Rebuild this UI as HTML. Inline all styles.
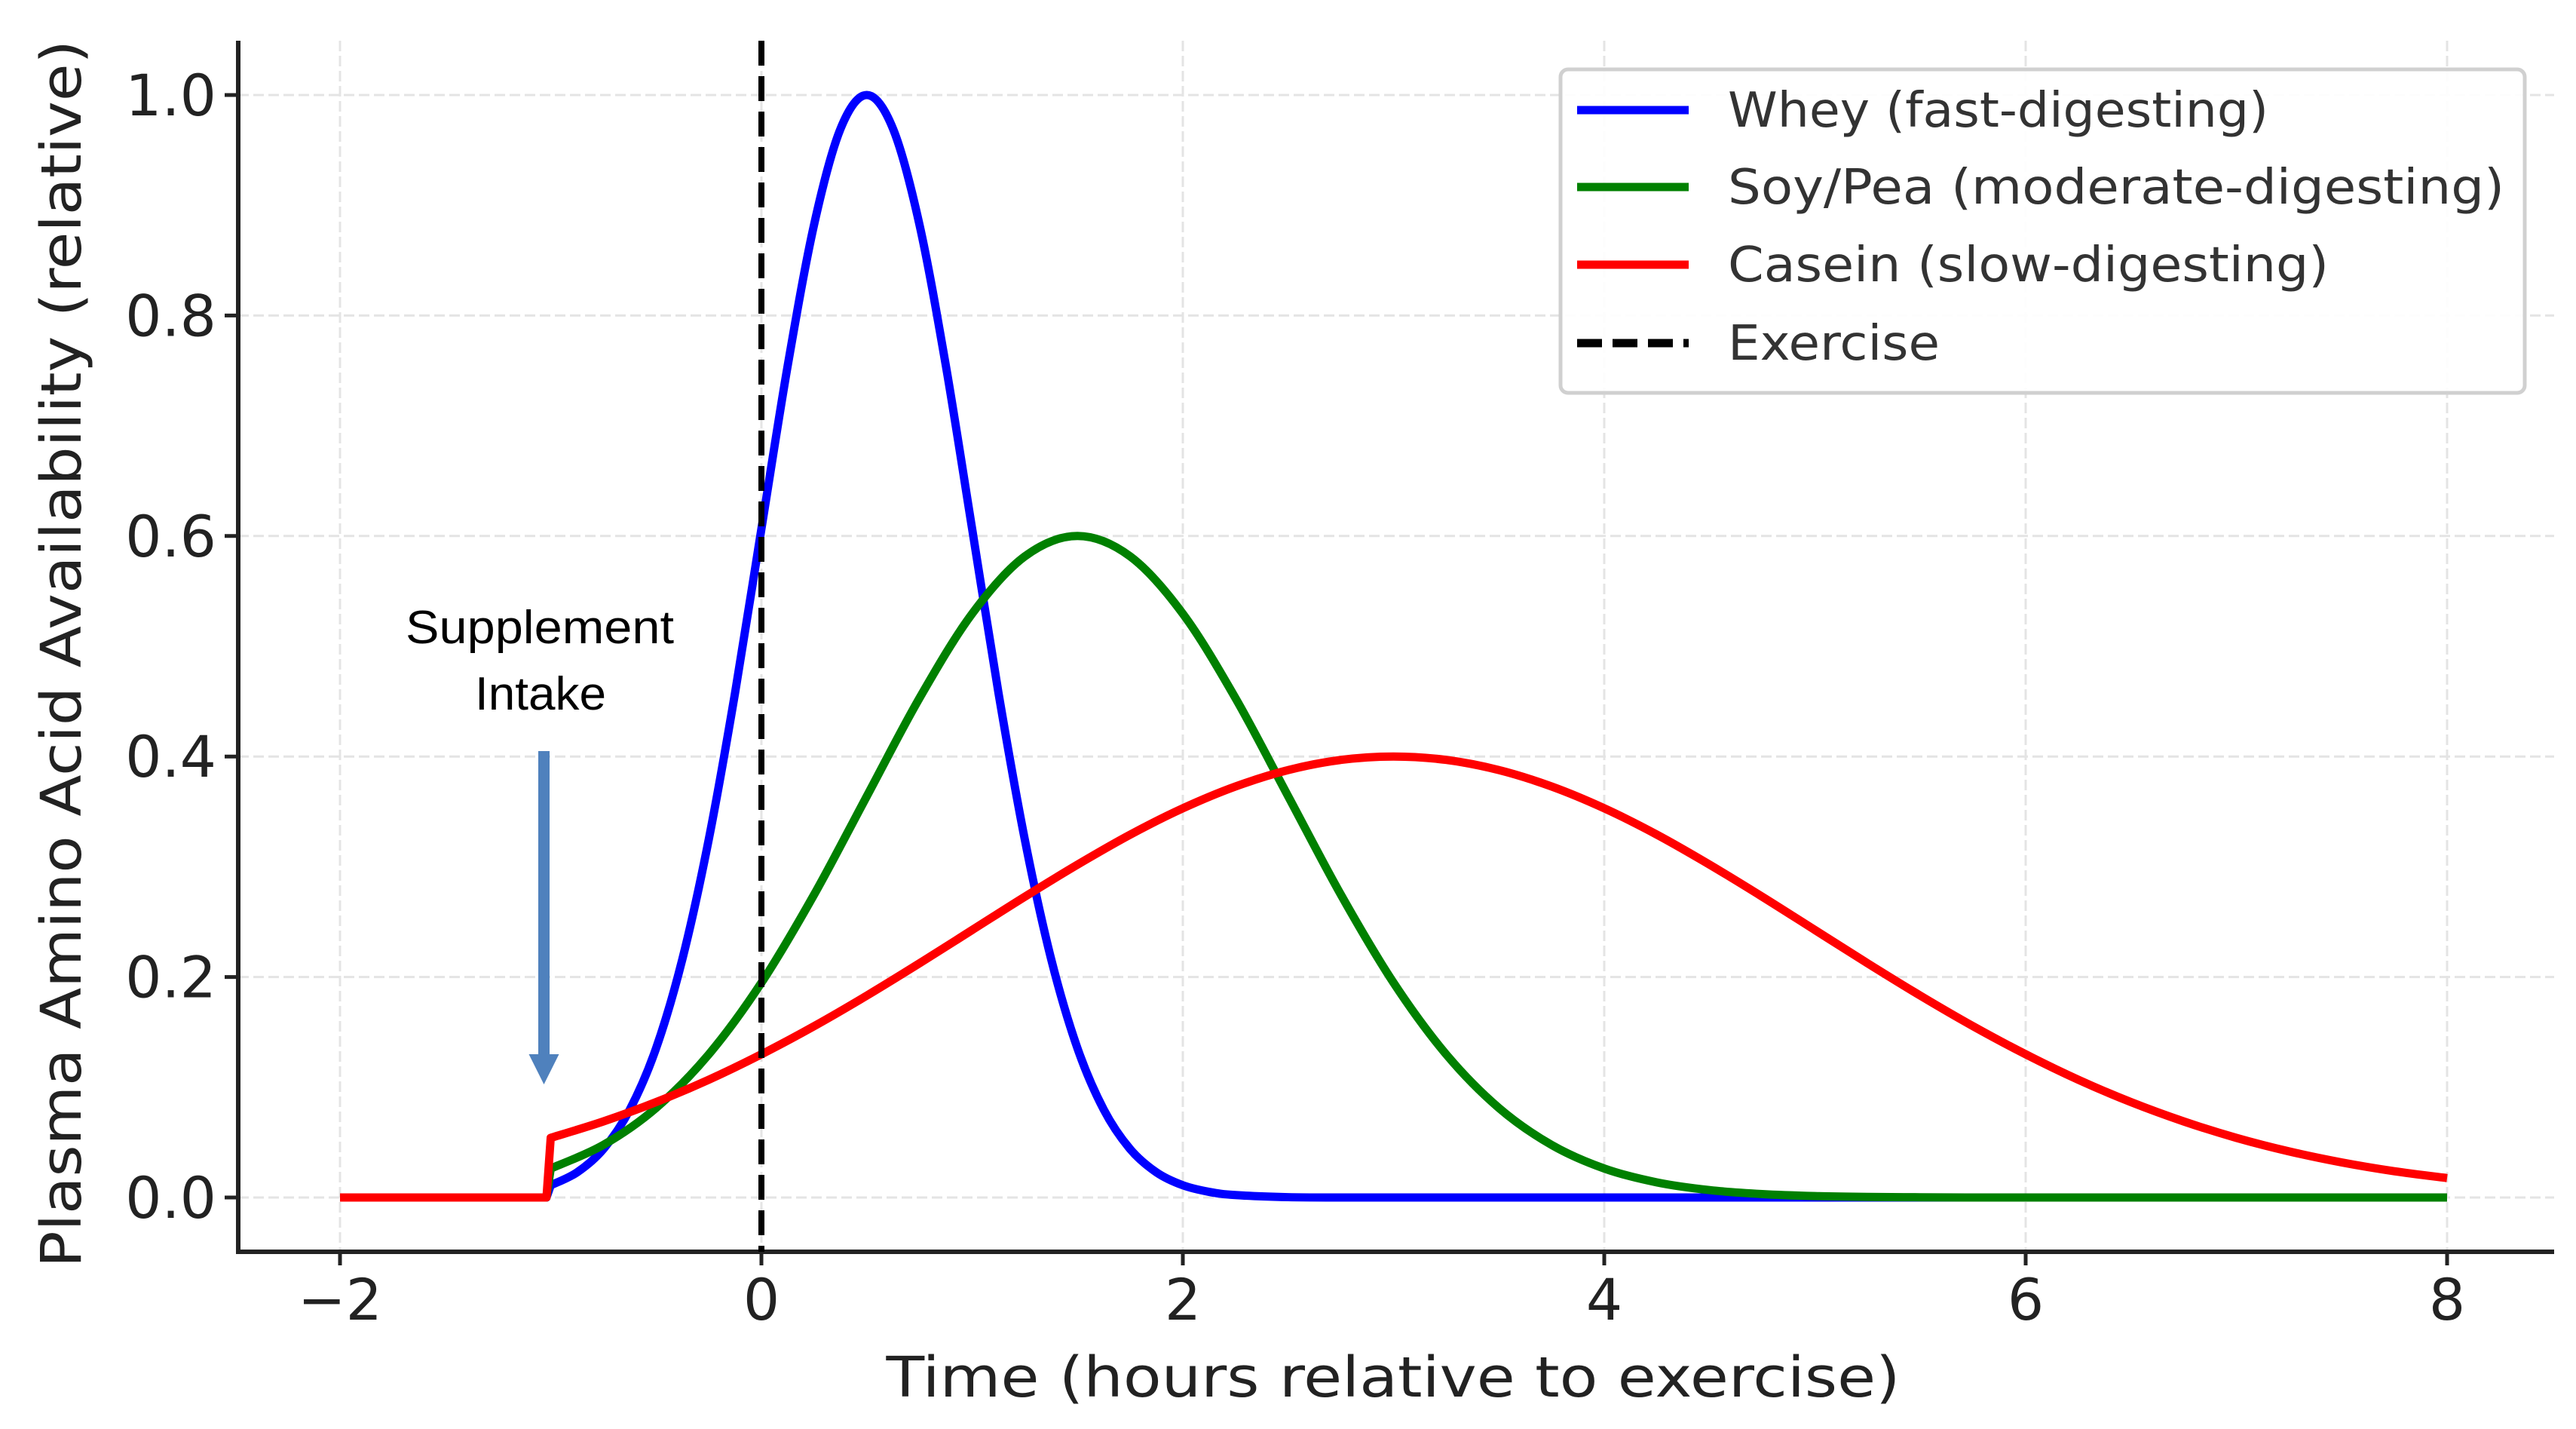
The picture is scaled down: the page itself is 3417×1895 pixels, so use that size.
<!DOCTYPE html>
<html><head><meta charset="utf-8"><style>
html,body{margin:0;padding:0;background:#fff;}
svg{display:block;font-family:"DejaVu Sans","Liberation Sans",sans-serif;}
</style></head><body>
<svg id="chart" width="3417" height="1895" viewBox="0 0 3417 1895" xmlns="http://www.w3.org/2000/svg">
<rect width="3417" height="1895" fill="#fff"/>
<g id="grid"></g>
<g id="axes"></g>
<g id="series"></g>
<g id="annot"></g>
<g id="legend"></g>
</svg>
<script>
const xTicks = [-2, 0, 2, 4, 6, 8];
const yTicks = [0.0, 0.2, 0.4, 0.6, 0.8, 1.0];
const xTickLabels = ["\u22122", "0", "2", "4", "6", "8"];
const yTickLabels = ["0.0", "0.2", "0.4", "0.6", "0.8", "1.0"];
const hours = [-1,-0.75,-0.5,-0.25,0,0.25,0.5,0.75,1,1.25,1.5,1.75,2,2.25,2.5,2.75,3,3.25,3.5,3.75,4,4.25,4.5,4.75,5,5.25,5.5,5.75,6,6.25,6.5,6.75,7,7.25,7.5,7.75,8];
const wheyHours = [-1,-0.875,-0.75,-0.625,-0.5,-0.375,-0.25,-0.125,0,0.125,0.25,0.375,0.5,0.625,0.75,0.875,1,1.125,1.25,1.375,1.5,1.625,1.75,1.875,2,2.125,2.25,2.5,2.75,3,4,5,6,7,8];
const wheyValues = [0.0111,0.0228,0.0439,0.0796,0.1353,0.2163,0.3247,0.4578,0.6065,0.7548,0.8825,0.9692,1.0,0.9692,0.8825,0.7548,0.6065,0.4578,0.3247,0.2163,0.1353,0.0796,0.0439,0.0228,0.0111,0.0051,0.0022,0.0003,0,0,0,0,0,0,0];
const soyValues = [0.0263,0.0477,0.0812,0.1298,0.1948,0.2747,0.3639,0.4529,0.5295,0.5815,0.6,0.5815,0.5295,0.4529,0.3639,0.2747,0.1948,0.1298,0.0812,0.0477,0.0263,0.0137,0.0067,0.0031,0.0013,0.0005,0.0002,0,0,0,0,0,0,0,0,0,0];
const caseinValues = [0.0541,0.0690,0.0865,0.1068,0.1299,0.1554,0.1831,0.2124,0.2426,0.2728,0.3019,0.3291,0.3530,0.3728,0.3877,0.3969,0.4,0.3969,0.3877,0.3728,0.3530,0.3291,0.3019,0.2728,0.2426,0.2124,0.1831,0.1554,0.1299,0.1068,0.0865,0.0690,0.0541,0.0418,0.0318,0.0238,0.0176];
const preIntakeHours = [-2, -1.02];
const preIntakeValues = [0, 0];
const exerciseTime = [0];
const intakeTime = [-1];

const NS = "http://www.w3.org/2000/svg";
const X0 = 451, XS = 279.5;
const Y0 = 1588, YS = 1462;
const sx = v => X0 + (v + 2) * XS;
const sy = v => Y0 - v * YS;
const PL = 316, PR = 3388, PT = 54, PB = 1660;

function mk(tag, attrs, parent, txt) {
  const e = document.createElementNS(NS, tag);
  for (const k in attrs) e.setAttribute(k, attrs[k]);
  if (txt !== undefined) e.textContent = txt;
  parent.appendChild(e);
  return e;
}
const grid = document.getElementById('grid');
const axes = document.getElementById('axes');
const series = document.getElementById('series');
const annot = document.getElementById('annot');
const legend = document.getElementById('legend');

xTicks.forEach((t, i) => {
  const g = mk('line', {x1: sx(t), x2: sx(t), y1: PT, y2: PB, stroke: '#e4e4e4', 'stroke-width': 3, 'stroke-dasharray': '14 6'}, grid);
  
  
  const tk = mk('line', {x1: sx(t), x2: sx(t), y1: PB, y2: PB + 18, stroke: '#222', 'stroke-width': 5}, axes);
  
  
  const lb = mk('text', {x: sx(t), y: 1750, 'font-size': 76, 'text-anchor': 'middle', fill: '#222'}, axes, xTickLabels[i]);
  
  
});
yTicks.forEach((t, i) => {
  const g = mk('line', {x1: PL, x2: PR, y1: sy(t), y2: sy(t), stroke: '#e4e4e4', 'stroke-width': 3, 'stroke-dasharray': '14 6'}, grid);
  
  
  const tk = mk('line', {x1: PL - 18, x2: PL, y1: sy(t), y2: sy(t), stroke: '#222', 'stroke-width': 5}, axes);
  
  
  const lb = mk('text', {x: 287, y: sy(t) + 27, 'font-size': 76, 'text-anchor': 'end', fill: '#222'}, axes, yTickLabels[i]);
  
  
});
const ls = mk('line', {x1: PL, x2: PL, y1: PT, y2: PB + 3, stroke: '#222', 'stroke-width': 6}, axes);


const bs = mk('line', {x1: PL - 3, x2: PR, y1: PB, y2: PB, stroke: '#222', 'stroke-width': 6}, axes);


const xt = mk('text', {x: 1848, y: 1852, 'font-size': 74, 'text-anchor': 'middle', fill: '#222', textLength: 1345, lengthAdjust: 'spacingAndGlyphs'}, axes, 'Time (hours relative to exercise)');


const yt = mk('text', {x: 0, y: 0, 'font-size': 74, 'text-anchor': 'middle', fill: '#222', textLength: 1628, lengthAdjust: 'spacingAndGlyphs', transform: 'translate(107,867) rotate(-90)'}, axes, 'Plasma Amino Acid Availability (relative)');



function smoothPath(xs, ys) {
  const P = xs.map((x, i) => [sx(x), sy(ys[i])]);
  let d = 'M' + sx(preIntakeHours[0]) + ',' + sy(preIntakeValues[0]) + ' L' + sx(preIntakeHours[1]) + ',' + sy(preIntakeValues[1]) + ' L' + P[0][0] + ',' + P[0][1];
  for (let i = 0; i < P.length - 1; i++) {
    const p0 = P[Math.max(0, i - 1)], p1 = P[i], p2 = P[i + 1], p3 = P[Math.min(P.length - 1, i + 2)];
    const c1 = [p1[0] + (p2[0] - p0[0]) / 6, p1[1] + (p2[1] - p0[1]) / 6];
    const c2 = [p2[0] - (p3[0] - p1[0]) / 6, p2[1] - (p3[1] - p1[1]) / 6];
    d += ' C' + c1[0] + ',' + c1[1] + ' ' + c2[0] + ',' + c2[1] + ' ' + p2[0] + ',' + p2[1];
  }
  return d;
}
const sw = mk('path', {d: smoothPath(wheyHours, wheyValues), fill: 'none', stroke: '#0000ff', 'stroke-width': 11, 'stroke-linejoin': 'round'}, series);


const ss = mk('path', {d: smoothPath(hours, soyValues), fill: 'none', stroke: '#008000', 'stroke-width': 11, 'stroke-linejoin': 'round'}, series);


const sc = mk('path', {d: smoothPath(hours, caseinValues), fill: 'none', stroke: '#ff0000', 'stroke-width': 11, 'stroke-linejoin': 'round'}, series);


const ex = mk('line', {x1: sx(exerciseTime[0]), x2: sx(exerciseTime[0]), y1: PT, y2: PB, stroke: '#000', 'stroke-width': 8, 'stroke-dasharray': '33 14'}, series);



const ax = sx(intakeTime[0]) - 9;
const arr = mk('g', {}, annot);


mk('rect', {x: ax - 7.5, y: 996, width: 15, height: 404, fill: '#4f81bd'}, arr);
mk('polygon', {points: (ax - 20) + ',1398 ' + (ax + 20) + ',1398 ' + ax + ',1438', fill: '#4f81bd'}, arr);
const t1 = mk('text', {x: 716, y: 853, 'font-size': 62, 'text-anchor': 'middle', fill: '#000', textLength: 356, lengthAdjust: 'spacingAndGlyphs', 'font-family': '"Liberation Sans", sans-serif'}, annot, 'Supplement');


const t2 = mk('text', {x: 717, y: 941, 'font-size': 62, 'text-anchor': 'middle', fill: '#000', textLength: 174, lengthAdjust: 'spacingAndGlyphs', 'font-family': '"Liberation Sans", sans-serif'}, annot, 'Intake');



const lb = mk('rect', {x: 2070, y: 92, width: 1279, height: 429, rx: 10, fill: '#fff', 'fill-opacity': 0.9, stroke: '#d0d0d0', 'stroke-width': 5}, legend);


const legNames = ['Whey (fast-digesting)', 'Soy/Pea (moderate-digesting)', 'Casein (slow-digesting)', 'Exercise'];
const legColors = ['#0000ff', '#008000', '#ff0000', '#000'];
const legLens = [717, 1030, 797, 281];
const legY = [146, 248, 351, 455];
legNames.forEach((n, i) => {
  const g = mk('g', {}, legend);
  
  
  const a = {x1: 2092, x2: 2240, y1: legY[i], y2: legY[i], stroke: legColors[i], 'stroke-width': 11};
  if (i === 3) a['stroke-dasharray'] = '33 14';
  mk('line', a, g);
  mk('text', {x: 2292, y: legY[i] + 22, 'font-size': 64, fill: '#333', textLength: legLens[i], lengthAdjust: 'spacingAndGlyphs'}, g, n);
});
</script>
</body></html>
